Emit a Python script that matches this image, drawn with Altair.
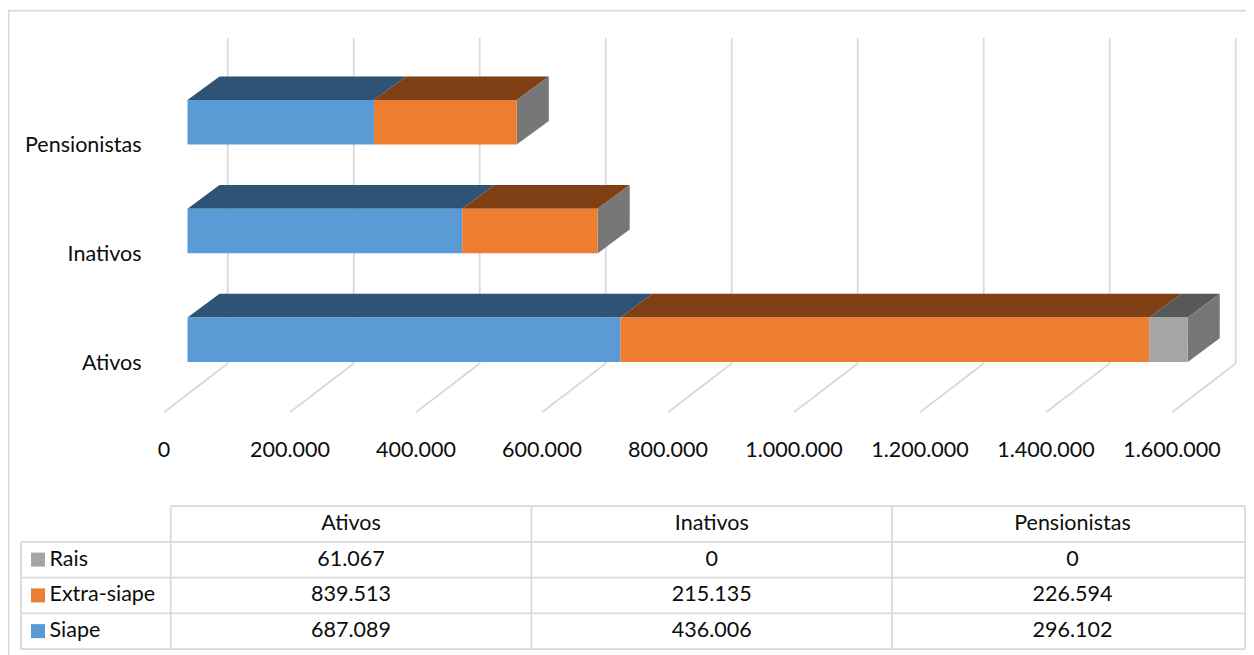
import altair as alt
import pandas as pd

categories = ["Ativos", "Inativos", "Pensionistas"]
series_names = ["Siape", "Extra-siape", "Rais"]
siape = [687089, 436006, 296102]
extra_siape = [839513, 215135, 226594]
rais = [61067, 0, 0]
axis_ticks = [0, 200000, 400000, 600000, 800000, 1000000, 1200000, 1400000, 1600000]
axis_labels = ["0", "200.000", "400.000", "600.000", "800.000", "1.000.000", "1.200.000", "1.400.000", "1.600.000"]

front_colors = ["#5B9BD5", "#ED7D31", "#A5A5A5"]
top_colors = ["#2E5374", "#7F4016", "#585858"]
side_color = "#777777"
grid_color = "#D9D9D9"
text_color = "#0D0D0D"
FONT = "Lato"
FS = 21.5
LINE_W = 1.75

W, H = 1238, 647
ORG = 8
PX_PER_UNIT = 0.00063
ZERO_PX = 187.5
ROW_PX = 108.7
BASE_PX = 362.0


def vx(px_delta):
    return px_delta / PX_PER_UNIT


def uy(px):
    return (BASE_PX - px) / ROW_PX


x_dom = [vx(ORG - ZERO_PX), vx(ORG + W - ZERO_PX)]
y_dom = [uy(ORG + H), uy(ORG)]
X = alt.Scale(domain=x_dom, nice=False, zero=False)
Y = alt.Scale(domain=y_dom, nice=False, zero=False)

BAR_H = 44.5 / ROW_PX
DEPTH_X = vx(32.0)
DEPTH_Y = 23.7 / ROW_PX

fronts, tops, sides = [], [], []
for i, cat in enumerate(categories):
    start = 0
    for s, (name, vals) in enumerate(zip(series_names, [siape, extra_siape, rais])):
        end = start + vals[i]
        if vals[i] > 0:
            fronts.append(dict(x=start, x2=end, y=i, y2=i + BAR_H, c=front_colors[s]))
            tops.append(dict(f=f"{cat}-{name}", y=i + BAR_H, x=start, x2=end, c=top_colors[s]))
            tops.append(dict(f=f"{cat}-{name}", y=i + BAR_H + DEPTH_Y, x=start + DEPTH_X, x2=end + DEPTH_X, c=top_colors[s]))
        start = end
    sides.append(dict(f=cat, x=start, y=i, y2=i + BAR_H, c=side_color))
    sides.append(dict(f=cat, x=start + DEPTH_X, y=i + DEPTH_Y, y2=i + BAR_H + DEPTH_Y, c=side_color))

REAR_X = vx(40.2)
FLOOR_X = vx(-23.5)
rear_bottom = uy(363.5)
floor_front = uy(412.3)
grid_top = uy(38)

grid_df = pd.DataFrame([dict(x=t + REAR_X, y=rear_bottom, y2=grid_top) for t in axis_ticks])
floor_df = pd.DataFrame(
    [r for t in axis_ticks for r in (dict(t=t, x=t + REAR_X, y=rear_bottom), dict(t=t, x=t + FLOOR_X, y=floor_front))]
)
tick_df = pd.DataFrame([dict(x=t + FLOOR_X, y=uy(450.5), s=l) for t, l in zip(axis_ticks, axis_labels)])
cat_df = pd.DataFrame([dict(x=vx(141.5 - ZERO_PX), y=i - 1.5 / ROW_PX, s=c) for i, c in enumerate(categories)])

qx = lambda f="x": alt.X(f"{f}:Q", scale=X, axis=None)
qy = lambda f="y": alt.Y(f"{f}:Q", scale=Y, axis=None)
fill = alt.Color("c:N", scale=None)

plot = alt.layer(
    alt.Chart(grid_df).mark_rule(color=grid_color, strokeWidth=LINE_W).encode(x=qx(), y=qy(), y2="y2:Q"),
    alt.Chart(floor_df).mark_line(color=grid_color, strokeWidth=LINE_W).encode(x=qx(), y=qy(), detail="t:N", order="y:Q"),
    alt.Chart(pd.DataFrame(tops)).mark_area(orient="horizontal").encode(
        y=qy(), x=alt.X("x:Q", scale=X, axis=None, stack=None), x2="x2:Q", color=fill, detail="f:N"
    ),
    alt.Chart(pd.DataFrame(sides)).mark_area(orient="vertical").encode(
        x=qx(), y=alt.Y("y:Q", scale=Y, axis=None, stack=None), y2="y2:Q", color=fill, detail="f:N"
    ),
    alt.Chart(pd.DataFrame(fronts)).mark_rect().encode(x=qx(), x2="x2:Q", y=qy(), y2="y2:Q", color=fill),
    alt.Chart(tick_df).mark_text(font=FONT, fontSize=FS, color=text_color, align="center", baseline="middle").encode(
        x=qx(), y=qy(), text="s:N"
    ),
    alt.Chart(cat_df).mark_text(font=FONT, fontSize=FS, color=text_color, align="right", baseline="middle").encode(
        x=qx(), y=qy(), text="s:N"
    ),
)

# Data table: one unit per column / row
COL0_PX, COL_PX = 170.7, 360.7
ROW0_PX, TROW_PX = 506.0, 35.75
tx_dom = [(ORG - COL0_PX) / COL_PX, (ORG + W - COL0_PX) / COL_PX]
ty_dom = [(ORG - ROW0_PX) / TROW_PX, (ORG + H - ROW0_PX) / TROW_PX]
TX = alt.Scale(domain=tx_dom, nice=False, zero=False)
TY = alt.Scale(domain=ty_dom, nice=False, zero=False, reverse=True)
LEFT = (21.0 - COL0_PX) / COL_PX


def cx(px):
    return (px - COL0_PX) / COL_PX


def ry(px):
    return (px - ROW0_PX) / TROW_PX


tqx = lambda f="x": alt.X(f"{f}:Q", scale=TX, axis=None)
tqy = lambda f="y": alt.Y(f"{f}:Q", scale=TY, axis=None)

row_series = ["Rais", "Extra-siape", "Siape"]
row_values = [rais, extra_siape, siape]
row_colors = ["#A5A5A5", "#ED7D31", "#5B9BD5"]

RIGHT = cx(1245.2)
h_rules = [dict(x=0, x2=RIGHT, y=0)] + [dict(x=LEFT, x2=RIGHT, y=r) for r in range(1, 5)]
v_rules = [dict(x=LEFT, y=1, y2=4)] + [dict(x=c, y=0, y2=4) for c in (0, 1, 2, RIGHT)]
frame_h = [dict(x=cx(ORG), x2=cx(ORG + W), y=ry(10.5))]
frame_v = [dict(x=cx(8.6), y=ry(10.5), y2=ry(ORG + H))]

cells = [dict(x=c + 0.5, y=0.5, s=cat) for c, cat in enumerate(categories)]
for r, vals in enumerate(row_values):
    for c, v in enumerate(vals):
        cells.append(dict(x=c + 0.5, y=r + 1.5, s=f"{v:,}".replace(",", ".")))
legend_text = [dict(x=cx(49.5), y=r + 1.5, s=n) for r, n in enumerate(row_series)]
swatches = [dict(x=cx(38), y=r + 1.5, c=col) for r, col in enumerate(row_colors)]

table = alt.layer(
    alt.Chart(pd.DataFrame(frame_h + h_rules)).mark_rule(color=grid_color, strokeWidth=LINE_W).encode(
        x=tqx(), x2="x2:Q", y=tqy()
    ),
    alt.Chart(pd.DataFrame(frame_v + v_rules)).mark_rule(color=grid_color, strokeWidth=LINE_W).encode(
        x=tqx(), y=tqy(), y2="y2:Q"
    ),
    alt.Chart(pd.DataFrame(cells)).mark_text(font=FONT, fontSize=FS, color=text_color, align="center", baseline="middle").encode(
        x=tqx(), y=tqy(), text="s:N"
    ),
    alt.Chart(pd.DataFrame(legend_text)).mark_text(font=FONT, fontSize=FS, color=text_color, align="left", baseline="middle").encode(
        x=tqx(), y=tqy(), text="s:N"
    ),
    alt.Chart(pd.DataFrame(swatches)).mark_point(shape="square", filled=True, size=196, opacity=1).encode(
        x=tqx(), y=tqy(), color=fill
    ),
)

chart = (
    alt.layer(plot, table)
    .resolve_scale(x="independent", y="independent")
    .properties(width=W, height=H, padding=0, autosize=alt.AutoSizeParams(type="none"), background="white")
    .configure_view(stroke=None)
)

chart.save("out.html", embed_options={"renderer": "svg", "actions": False})
